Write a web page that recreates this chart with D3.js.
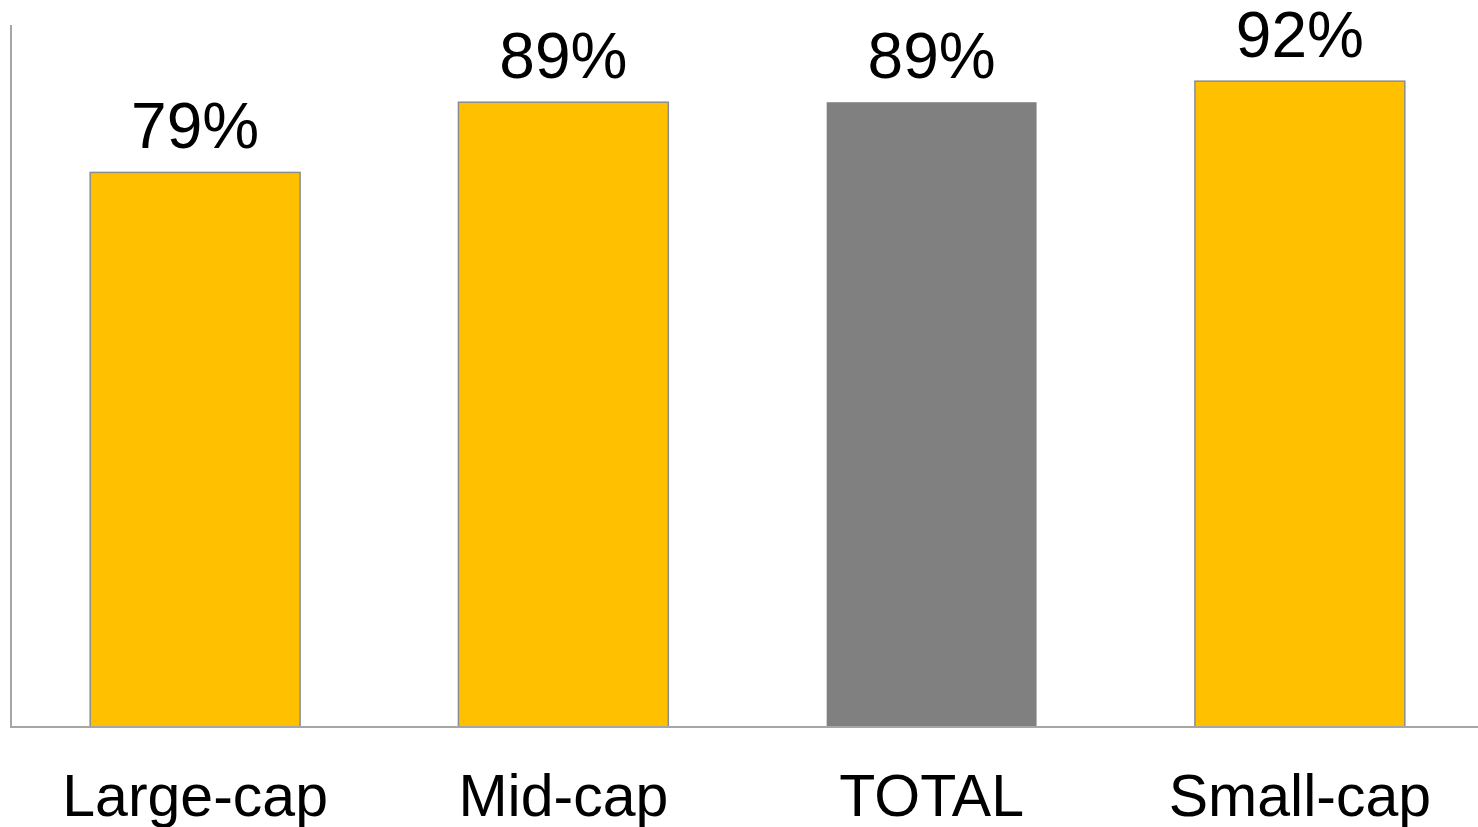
<!DOCTYPE html>
<html><head><meta charset="utf-8">
<script src="https://cdn.jsdelivr.net/npm/d3@7"></script>
<style>body{margin:0;background:#fff;}svg{display:block;font-family:"Liberation Sans",Arial,sans-serif;}</style>
</head><body>
<svg id="chart" width="1478" height="827"></svg>
<script>
const categories = ["Large-cap", "Mid-cap", "TOTAL", "Small-cap"];
const values = [79, 89, 89, 92];
const valueLabels = ["79%", "89%", "89%", "92%"];
const barColors = ["#FFC000", "#FFC000", "#808080", "#FFC000"];

const svg = d3.select("#chart");
const x = d3.scaleBand().domain(categories).range([11, 1484]).paddingInner(0.43).paddingOuter(0.215);
const y = d3.scaleLinear().domain([0, 100]).range([727, 25]);

const data = categories.map((c, i) => ({c, v: values[i], label: valueLabels[i], color: barColors[i]}));

svg.selectAll("rect.bar").data(data).enter().append("rect")
  .attr("class", "bar")
  .attr("x", d => x(d.c))
  .attr("width", x.bandwidth())
  .attr("y", d => y(d.v))
  .attr("height", d => y(0) - y(d.v))
  .attr("fill", d => d.color)
  .attr("stroke", d => d.c === "TOTAL" ? "none" : "#8c8c8c")
  .attr("stroke-width", 1.5);

// axes
svg.append("line").attr("x1", 11).attr("x2", 11).attr("y1", y(100)).attr("y2", y(0))
  .attr("stroke", "#a6a6a6").attr("stroke-width", 2);
svg.append("line").attr("x1", 10).attr("x2", 1478).attr("y1", y(0)).attr("y2", y(0))
  .attr("stroke", "#a6a6a6").attr("stroke-width", 2);

svg.selectAll("text.val").data(data).enter().append("text")
  .attr("class", "val")
  .attr("x", d => x(d.c) + x.bandwidth() / 2)
  .attr("y", d => y(d.v) - 24)
  .attr("text-anchor", "middle")
  .attr("font-size", 64)
  .attr("fill", "#000")
  .text(d => d.label);

svg.selectAll("text.cat").data(data).enter().append("text")
  .attr("class", "cat")
  .attr("x", d => x(d.c) + x.bandwidth() / 2)
  .attr("y", 816)
  .attr("text-anchor", "middle")
  .attr("font-size", 59)
  .attr("fill", "#000")
  .text(d => d.c);
</script>
</body></html>
